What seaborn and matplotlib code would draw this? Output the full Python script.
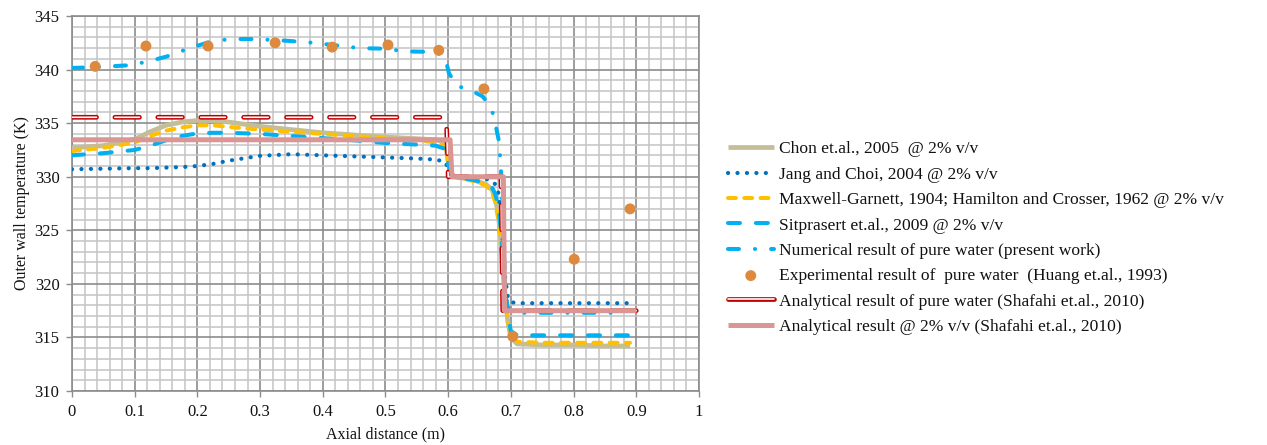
import numpy as np
import pandas as pd
import matplotlib
matplotlib.use("Agg")
import matplotlib.pyplot as plt
import matplotlib.patheffects as pe
from matplotlib.lines import Line2D
import seaborn as sns

# ---- data -------------------------------------------------------------
x_model = [0, 0.05, 0.1, 0.125, 0.15, 0.175, 0.2, 0.225, 0.25, 0.3, 0.35, 0.4,
           0.45, 0.5, 0.55, 0.58, 0.595, 0.6, 0.605, 0.61, 0.62, 0.64, 0.66,
           0.67, 0.675, 0.68, 0.685, 0.69, 0.695, 0.7, 0.71, 0.75, 0.8, 0.85, 0.89]

t_chon = [332.7, 332.9, 333.5, 334.2, 334.8, 335.1, 335.25, 335.25, 335.1, 334.7,
          334.4, 334.1, 333.9, 333.7, 333.55, 333.45, 333.2, 331.5, 330.3, 330.0,
          329.9, 329.7, 329.3, 328.8, 328.0, 326.5, 323.5, 319.5, 316.5, 315.0,
          314.4, 314.3, 314.3, 314.2, 314.2]

t_jang = [330.7, 330.75, 330.8, 330.8, 330.85, 330.9, 331.0, 331.2, 331.5, 331.95,
          332.1, 332.0, 331.9, 331.8, 331.7, 331.6, 331.4, 330.8, 330.2, 330.0,
          329.95, 329.9, 329.8, 329.6, 329.3, 328.5, 326.0, 321.0, 318.8, 318.3,
          318.2, 318.2, 318.2, 318.2, 318.2]

t_maxwell = [332.4, 332.7, 333.2, 333.8, 334.3, 334.6, 334.8, 334.8, 334.65, 334.4,
             334.2, 334.0, 333.8, 333.6, 333.4, 333.2, 332.9, 331.3, 330.3, 330.0,
             329.9, 329.6, 329.2, 328.6, 327.6, 326.0, 323.0, 319.0, 316.5, 315.2,
             314.6, 314.5, 314.5, 314.5, 314.5]

t_sitprasert = [332.0, 332.2, 332.5, 332.9, 333.4, 333.8, 334.05, 334.1, 334.1, 334.0,
                333.8, 333.6, 333.4, 333.15, 333.0, 332.9, 332.6, 331.2, 330.3, 330.0,
                329.9, 329.7, 329.4, 329.0, 328.4, 327.2, 324.5, 320.0, 317.0, 315.6,
                315.2, 315.2, 315.2, 315.2, 315.2]

x_numerical = [0, 0.045, 0.09, 0.117, 0.15, 0.183, 0.215, 0.25, 0.29, 0.34, 0.385,
               0.43, 0.46, 0.5, 0.53, 0.575, 0.59, 0.596, 0.601, 0.613, 0.635, 0.655,
               0.669, 0.675, 0.681, 0.684, 0.687, 0.69, 0.694, 0.7, 0.88]
t_numerical = [340.15, 340.25, 340.4, 340.7, 341.2, 341.9, 342.5, 342.85, 342.85,
               342.7, 342.5, 342.2, 342.0, 341.95, 341.7, 341.65, 341.4, 340.95,
               339.7, 338.5, 338.1, 337.5, 336.4, 335.0, 333.3, 330.9, 326.0, 321.0,
               318.0, 317.3, 317.3]

x_exp = [0.037, 0.118, 0.217, 0.324, 0.415, 0.504, 0.585, 0.657, 0.703, 0.801, 0.890]
t_exp = [340.3, 342.2, 342.2, 342.5, 342.1, 342.3, 341.8, 338.2, 315.1, 322.3, 327.0]

x_analytic_water = [0, 0.597, 0.6, 0.684, 0.687, 0.9]
t_analytic_water = [335.55, 335.55, 330.0, 330.0, 317.5, 317.5]

x_analytic_np = [0, 0.603, 0.606, 0.688, 0.69, 0.9]
t_analytic_np = [333.45, 333.45, 330.0, 330.0, 317.5, 317.5]

labels = [
    "Chon et.al., 2005  @ 2% v/v",
    "Jang and Choi, 2004 @ 2% v/v",
    "Maxwell-Garnett, 1904; Hamilton and Crosser, 1962 @ 2% v/v",
    "Sitprasert et.al., 2009 @ 2% v/v",
    "Numerical result of pure water (present work)",
    "Experimental result of  pure water  (Huang et.al., 1993)",
    "Analytical result of pure water (Shafahi et.al., 2010)",
    "Analytical result @ 2% v/v (Shafahi et.al., 2010)",
]

x_ticks = [0, 0.1, 0.2, 0.3, 0.4, 0.5, 0.6, 0.7, 0.8, 0.9, 1]
y_ticks = [310, 315, 320, 325, 330, 335, 340, 345]

# ---- style ------------------------------------------------------------
sns.set_style("white")
plt.rcParams["font.family"] = ["Liberation Serif", "DejaVu Serif"]
plt.rcParams["lines.scale_dashes"] = False

TAN = "#C4BD97"
DARK_BLUE = "#0070C0"
GOLD = "#FFC000"
CYAN = "#00B0F0"
ORANGE = "#DD8A3E"
RED = "#C00000"
ROSE = "#D99694"
GRID_MAJOR = "#8C8C8C"
GRID_MINOR = "#C4C4C4"
TEXT = "#111111"

# outlined line: thin white core with a red stroke around it
OUTLINE = [pe.Stroke(linewidth=3.4, foreground=RED), pe.Normal()]

fig = plt.figure(figsize=(12.67, 4.45), dpi=100)
ax = fig.add_axes([0.0568, 0.1213, 0.4949, 0.8427])


def draw(x, y, **kw):
    sns.lineplot(x=x, y=y, ax=ax, sort=False, estimator=None, legend=False, **kw)
    return ax.lines[-1]


h_chon = draw(x_model, t_chon, color=TAN, lw=3.4, solid_capstyle="butt", zorder=3)
h_jang = draw(x_model, t_jang, color=DARK_BLUE, lw=3.0,
              linestyle=(0, (0.1, 6.7)), dash_capstyle="round", zorder=4)
h_max = draw(x_model, t_maxwell, color=GOLD, lw=2.9,
             linestyle=(0, (5.7, 6.0)), dash_capstyle="round", zorder=5)
h_sit = draw(x_model, t_sitprasert, color=CYAN, lw=2.9,
             linestyle=(0, (8.6, 11.5)), dash_capstyle="round", zorder=6)
h_num = draw(x_numerical, t_numerical, color=CYAN, lw=2.9,
             linestyle=(0, (7.9, 11.5, 0.1, 11.5)), dash_capstyle="round", zorder=7)

sns.scatterplot(x=x_exp, y=t_exp, ax=ax, color=ORANGE, s=62, edgecolor="none",
                legend=False, zorder=8)
h_exp = ax.collections[-1]

draw(x_analytic_water, t_analytic_water, color="white", lw=1.2,
     linestyle=(0, (17.7, 13.2)), dash_capstyle="round",
     path_effects=OUTLINE, zorder=9)
h_np = draw(x_analytic_np, t_analytic_np, color=ROSE, lw=3.6,
            solid_capstyle="butt", zorder=10)

# legend key for the outlined line: a single rounded bar
key_water = Line2D([], [], color="white", lw=1.2, solid_capstyle="round",
                   path_effects=OUTLINE)

# ---- axes -------------------------------------------------------------
ax.set_xlim(0, 1)
ax.set_ylim(310, 345)
ax.set_xticks(x_ticks)
ax.set_xticklabels([f"{v:g}" for v in x_ticks])
ax.set_yticks(y_ticks)
ax.set_xticks(np.arange(0, 1.0001, 0.02), minor=True)
ax.set_yticks(np.arange(310, 345.001, 1), minor=True)
ax.grid(which="minor", color=GRID_MINOR, lw=1.1, zorder=0)
ax.grid(which="major", color=GRID_MAJOR, lw=1.2, zorder=0)
ax.set_axisbelow(True)
ax.tick_params(which="major", direction="out", length=4, width=1,
               color=GRID_MAJOR, labelsize=12, labelcolor=TEXT, pad=5,
               left=True, bottom=True)
ax.tick_params(which="minor", length=0)
for s in ax.spines.values():
    s.set_color(GRID_MAJOR)
    s.set_linewidth(1.2)

ax.set_xlabel("Axial distance (m)", fontsize=11.5, color=TEXT, labelpad=5)
ax.set_ylabel("Outer wall temperature (K)", fontsize=11.5, color=TEXT, labelpad=3)

handles = [h_chon, h_jang, h_max, h_sit, h_num, h_exp, key_water, h_np]
fig.legend(handles, labels, loc="center left", bbox_to_anchor=(0.5746, 0.465),
           frameon=False, fontsize=12.6, handlelength=2.6, handletextpad=0.3,
           labelspacing=0.52, borderpad=0, borderaxespad=0,
           labelcolor=TEXT, scatterpoints=1)

fig.savefig("out.png", dpi=100)
